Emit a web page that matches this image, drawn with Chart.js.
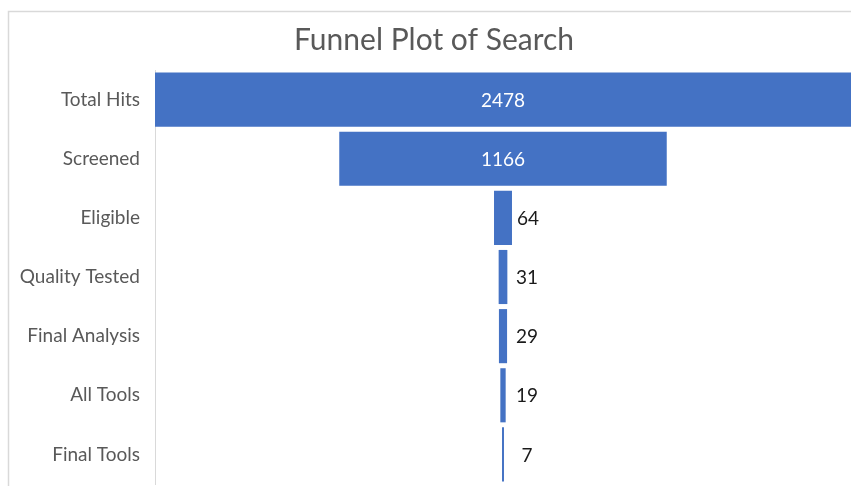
<!DOCTYPE html>
<html>
<head>
<meta charset="utf-8">
<title>Funnel Plot of Search</title>
<script src="https://cdn.jsdelivr.net/npm/chart.js@4/dist/chart.umd.min.js"></script>
<style>
  html, body { margin: 0; padding: 0; background: #fff; }
  canvas { display: block; }
</style>
</head>
<body>
<canvas id="funnel" width="851" height="486"></canvas>
<script>
// stages of the search, top to bottom
var stages = ['Total Hits', 'Screened', 'Eligible', 'Quality Tested', 'Final Analysis', 'All Tools', 'Final Tools'];
var counts = [2478, 1166, 64, 31, 29, 19, 7];

var fontFamily = "Lato, 'Open Sans', sans-serif";
var maxCount = Math.max.apply(null, counts);

// each bar is centred on zero so the stack looks like a funnel
var spans = counts.map(function(c) {
  return [-c / 2, c / 2];
});

// light frame round the chart
var framePlugin = {
  id: 'frame',
  beforeDraw: function(chart) {
    var ctx = chart.ctx;
    ctx.save();
    ctx.strokeStyle = '#d9d9d9';
    ctx.lineWidth = 1.5;
    ctx.beginPath();
    ctx.moveTo(8.5, chart.height + 2);
    ctx.lineTo(8.5, 11.5);
    ctx.lineTo(chart.width + 2, 11.5);
    ctx.stroke();
    ctx.restore();
  }
};

// value labels: inside wide bars in white, beside thin bars in black
var valueLabels = {
  id: 'valueLabels',
  afterDatasetsDraw: function(chart) {
    var ctx = chart.ctx;
    var meta = chart.getDatasetMeta(0);
    ctx.save();
    ctx.font = '19px ' + fontFamily;
    ctx.textBaseline = 'middle';
    ctx.textAlign = 'center';
    meta.data.forEach(function(bar, i) {
      var left = Math.min(bar.x, bar.base);
      var right = Math.max(bar.x, bar.base);
      var mid = (left + right) / 2;
      var txt = String(counts[i]);
      if (right - left > 60) {
        ctx.fillStyle = '#ffffff';
        ctx.fillText(txt, mid, bar.y + 1);
      } else {
        ctx.fillStyle = '#1a1a1a';
        ctx.fillText(txt, mid + Math.max((right - left) / 2, 8) + 16, bar.y + 1);
      }
    });
    ctx.restore();
  }
};

var ctx = document.getElementById('funnel').getContext('2d');
var funnel = new Chart(ctx, {
  type: 'bar',
  data: {
    labels: stages,
    datasets: [{
      data: spans,
      backgroundColor: '#4472c4',
      borderWidth: 0,
      borderSkipped: false,
      categoryPercentage: 1,
      barPercentage: 0.915
    }]
  },
  options: {
    indexAxis: 'y',
    responsive: false,
    animation: false,
    layout: {
      padding: { left: 17, right: 0, top: 0, bottom: 2 }
    },
    plugins: {
      legend: { display: false },
      tooltip: { enabled: false },
      title: {
        display: true,
        text: 'Funnel Plot of Search',
        color: '#595959',
        font: { family: fontFamily, size: 30, weight: 'normal', lineHeight: 1.2 },
        padding: { top: 22, bottom: 12 }
      }
    },
    scales: {
      x: {
        display: false,
        min: -maxCount / 2,
        max: maxCount / 2
      },
      y: {
        grid: { display: false, drawTicks: false },
        border: { display: true, color: '#d9d9d9', width: 1 },
        ticks: {
          color: '#595959',
          padding: 15,
          font: { family: fontFamily, size: 19 }
        },
        afterFit: function(scale) {
          scale.width = 138;
          scale.paddingTop = 0;
          scale.paddingBottom = 0;
        }
      }
    }
  },
  plugins: [framePlugin, valueLabels]
});
</script>
</body>
</html>
